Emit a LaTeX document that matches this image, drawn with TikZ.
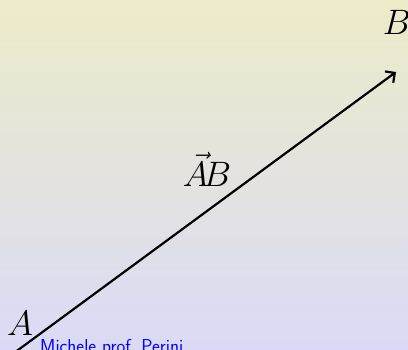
\documentclass[tikz,border=0pt]{standalone}
\usepackage{graphicx}
\usetikzlibrary{arrows.meta}
\definecolor{topc}{RGB}{237,235,200}
\definecolor{botc}{RGB}{218,218,246}
\newcommand{\biglbl}[1]{\scalebox{1.42}{\Huge #1}}
\begin{document}
\begin{tikzpicture}[x=1pt,y=1pt,
  lbl/.style={inner sep=0pt},
  vec/.style={line width=2.2pt, -{Straight Barb[length=7pt,width=14pt,line width=2.2pt]}}]
\useasboundingbox (0,0) rectangle (408,349);
\shade[top color=topc, bottom color=botc] (0,0) rectangle (408,349);
\coordinate (A) at (14,-4);
\coordinate (B) at (396,277);
\draw[vec] (A) -- (B);
\node[lbl] (la) at (20,26) {\biglbl{$A$}};
\node[lbl] (lb) at (397,327) {\biglbl{$B$}};
\node[lbl] (lab) at (207,180) {\biglbl{$\vec{A}\!B$}};
\node[anchor=base west, inner sep=0pt, text=blue] (auth) at (40,-4) {\scalebox{1.08}{\sffamily\LARGE Michele prof.\ Perini}};
\end{tikzpicture}
\end{document}
